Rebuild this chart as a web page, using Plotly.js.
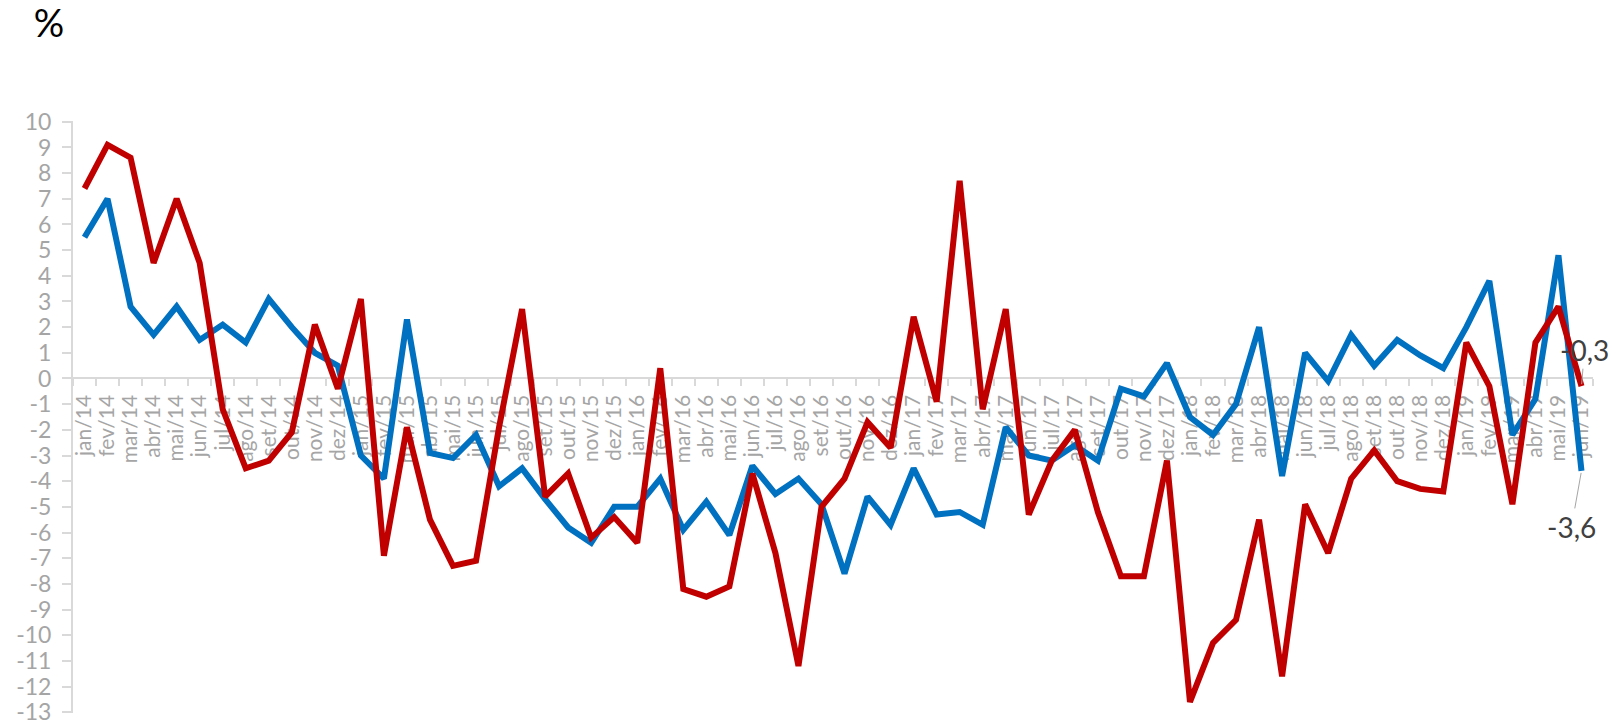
<!DOCTYPE html>
<html>
<head>
<meta charset="utf-8">
<script src="https://cdn.plot.ly/plotly-3.0.1.min.js"></script>
<style>html,body{margin:0;padding:0;background:#fff;}#chart{width:1617px;height:727px;}</style>
</head>
<body>
<div id="chart"></div>
<script>
const categories = [
  'jan/14','fev/14','mar/14','abr/14','mai/14','jun/14','jul/14','ago/14','set/14','out/14','nov/14','dez/14',
  'jan/15','fev/15','mar/15','abr/15','mai/15','jun/15','jul/15','ago/15','set/15','out/15','nov/15','dez/15',
  'jan/16','fev/16','mar/16','abr/16','mai/16','jun/16','jul/16','ago/16','set/16','out/16','nov/16','dez/16',
  'jan/17','fev/17','mar/17','abr/17','mai/17','jun/17','jul/17','ago/17','set/17','out/17','nov/17','dez/17',
  'jan/18','fev/18','mar/18','abr/18','mai/18','jun/18','jul/18','ago/18','set/18','out/18','nov/18','dez/18',
  'jan/19','fev/19','mar/19','abr/19','mai/19','jun/19'
];

const blueSeries = [
  5.5, 7.0, 2.8, 1.7, 2.8, 1.5, 2.1, 1.4, 3.1, 2.0, 1.0, 0.5,
  -3.0, -3.9, 2.3, -2.9, -3.1, -2.2, -4.2, -3.5, -4.7, -5.8, -6.4, -5.0,
  -5.0, -3.9, -5.9, -4.8, -6.1, -3.4, -4.5, -3.9, -4.9, -7.6, -4.6, -5.7,
  -3.5, -5.3, -5.2, -5.7, -1.9, -3.0, -3.2, -2.6, -3.2, -0.4, -0.7, 0.6,
  -1.5, -2.2, -1.0, 2.0, -3.8, 1.0, -0.1, 1.7, 0.5, 1.5, 0.9, 0.4,
  2.0, 3.8, -2.2, -0.8, 4.8, -3.6
];

const redSeries = [
  7.4, 9.1, 8.6, 4.5, 7.0, 4.5, -1.2, -3.5, -3.2, -2.1, 2.1, -0.4,
  3.1, -6.9, -1.9, -5.5, -7.3, -7.1, -1.9, 2.7, -4.6, -3.7, -6.2, -5.4,
  -6.4, 0.4, -8.2, -8.5, -8.1, -3.7, -6.8, -11.2, -5.0, -3.9, -1.7, -2.7,
  2.4, -0.9, 7.7, -1.2, 2.7, -5.3, -3.2, -2.0, -5.2, -7.7, -7.7, -3.2,
  -12.6, -10.3, -9.4, -5.5, -11.6, -4.9, -6.8, -3.9, -2.8, -4.0, -4.3, -4.4,
  1.4, -0.3, -4.9, 1.4, 2.8, -0.3
];

const yTickVals = [10,9,8,7,6,5,4,3,2,1,0,-1,-2,-3,-4,-5,-6,-7,-8,-9,-10,-11,-12,-13];
const yTickText = yTickVals.map(v => String(v));

const endLabelRed = '-0,3';
const endLabelBlue = '-3,6';

const yMin = -13, yMax = 10;
const lastIdx = categories.length - 1;

const traces = [
  {
    type: 'scatter', mode: 'lines', x: categories, y: blueSeries,
    line: {color: '#0070C0', width: 6}, hoverinfo: 'skip', showlegend: false
  },
  {
    type: 'scatter', mode: 'lines', x: categories, y: redSeries,
    line: {color: '#C00000', width: 6}, hoverinfo: 'skip', showlegend: false
  }
];

const gray = '#a5a5a5';
const axisGray = '#d9d9d9';
const pad = 0.03;

const layout = {
  width: 1617, height: 727,
  margin: {l: 73, r: 24, t: 121, b: 14},
  paper_bgcolor: '#ffffff', plot_bgcolor: '#ffffff',
  showlegend: false,
  title: {
    text: '%', x: 49/1617, xanchor: 'center', xref: 'container',
    y: 1 - 24/727, yanchor: 'middle', yref: 'container',
    font: {family: 'Lato, sans-serif', size: 38, color: '#000000'}
  },
  xaxis: {
    type: 'category', categoryorder: 'array', categoryarray: categories,
    range: [-0.5, lastIdx + 0.5],
    tickmode: 'linear', tick0: 0, dtick: 1,
    anchor: 'free', position: (0 - (yMin - pad)) / (yMax + pad - (yMin - pad)),
    showline: true, linecolor: axisGray, linewidth: 2,
    ticks: 'outside', tickson: 'boundaries', ticklen: 7, tickwidth: 2, tickcolor: axisGray,
    tickangle: -90, ticklabelstandoff: 7,
    tickfont: {family: 'Lato, sans-serif', size: 21, color: gray},
    showgrid: false, zeroline: false, layer: 'below traces', fixedrange: true
  },
  yaxis: {
    range: [yMin - pad, yMax + pad],
    tickmode: 'array', tickvals: yTickVals, ticktext: yTickText,
    showline: true, linecolor: axisGray, linewidth: 2,
    ticks: 'outside', ticklen: 9, tickwidth: 2, tickcolor: axisGray,
    ticklabelstandoff: 6, ticklabeloverflow: 'allow',
    tickfont: {family: 'Lato, sans-serif', size: 23, color: gray},
    showgrid: false, zeroline: false, fixedrange: true
  },
  annotations: [
    {
      x: categories[lastIdx], y: redSeries[lastIdx], xref: 'x', yref: 'y',
      text: endLabelRed, showarrow: true, arrowhead: 0, arrowwidth: 1, arrowcolor: gray,
      ax: 3, ay: -36, standoff: 2,
      font: {family: 'Lato, sans-serif', size: 28, color: '#404040'}
    },
    {
      x: categories[lastIdx], y: blueSeries[lastIdx], xref: 'x', yref: 'y',
      text: endLabelBlue, showarrow: true, arrowhead: 0, arrowwidth: 1, arrowcolor: gray,
      ax: -10, ay: 56, standoff: 2,
      font: {family: 'Lato, sans-serif', size: 28, color: '#404040'}
    }
  ]
};

Plotly.newPlot('chart', traces, layout, {displayModeBar: false, staticPlot: true});
</script>
</body>
</html>
